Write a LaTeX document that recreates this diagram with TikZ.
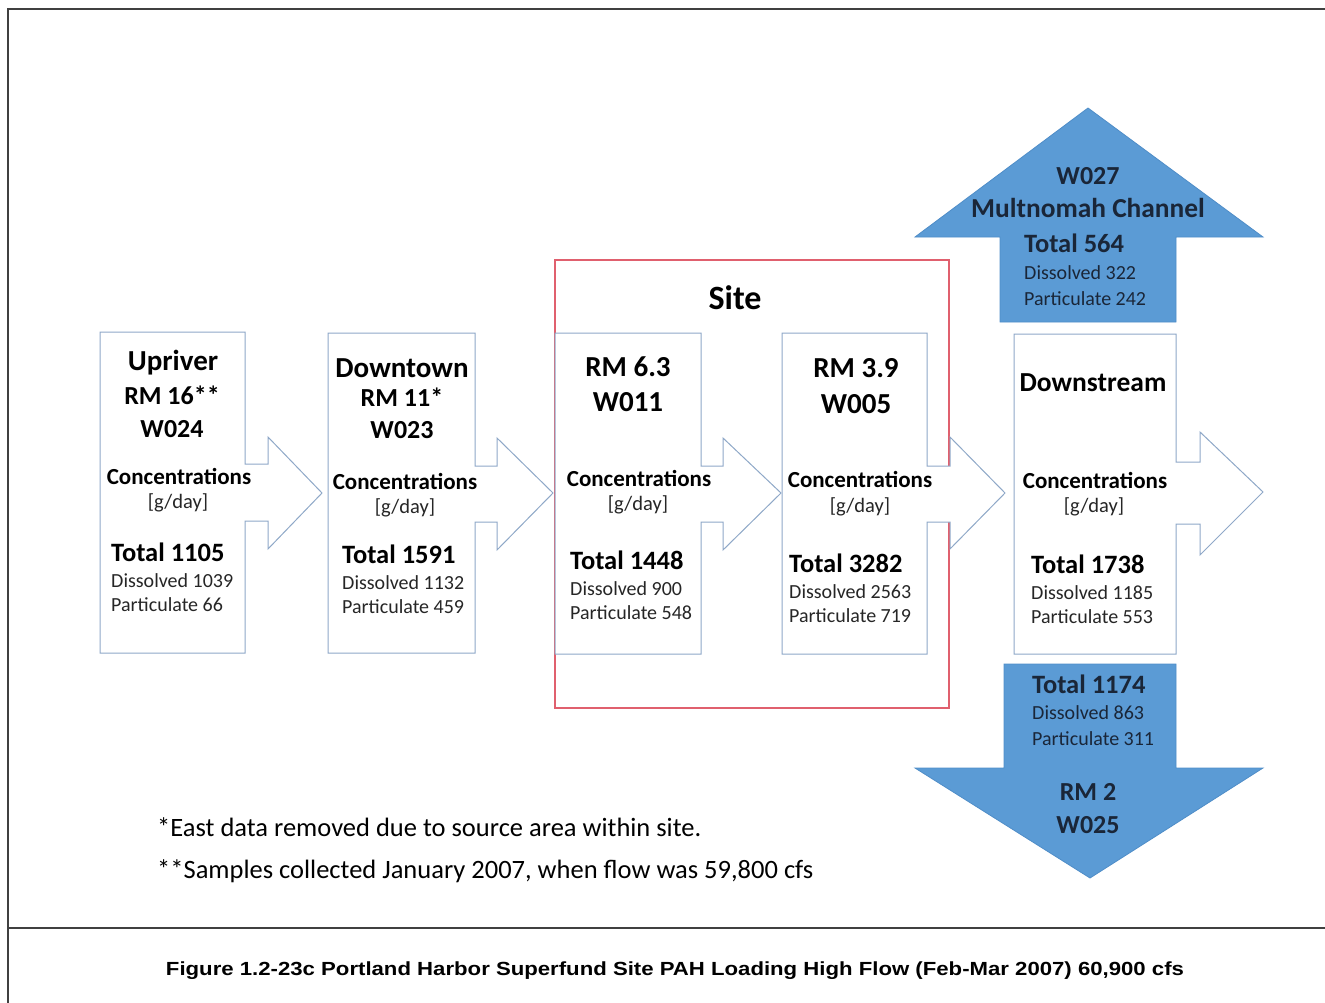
\documentclass[tikz,border=0pt]{standalone}
\usepackage{fontspec}
\usepackage{graphicx}
\setmainfont{Carlito}
\newfontfamily\capfont{Liberation Sans}
\definecolor{boxline}{HTML}{8FA8C8}
\definecolor{redline}{HTML}{E0606E}
\definecolor{bluefill}{HTML}{5B9BD5}
\definecolor{blueedge}{HTML}{4F8DC8}
\definecolor{bluetext}{HTML}{1A2638}
\definecolor{textgray}{HTML}{262626}
\definecolor{framecol}{HTML}{404040}
\tikzset{
  callout/.style={draw=boxline, fill=white, line width=1pt, line join=miter},
  bluearrow/.style={fill=bluefill, draw=blueedge, line width=0.8pt},
  sitebox/.style={draw=redline, line width=1.2pt},
  frameline/.style={draw=framecol, line width=2pt},
  lbl/.style={inner sep=0pt, anchor=base},
  lbll/.style={inner sep=0pt, anchor=base west},
  ttl/.style={font=\fontsize{29}{32}\selectfont\bfseries},
  sub/.style={font=\fontsize{26}{30}\selectfont\bfseries},
  conc/.style={font=\fontsize{23}{26}\selectfont\bfseries},
  unit/.style={font=\fontsize{20.5}{24}\selectfont, text=textgray},
  tot/.style={font=\fontsize{26.5}{30}\selectfont\bfseries},
  val/.style={font=\fontsize{20}{23}\selectfont, text=textgray},
  foot/.style={font=\fontsize{26.5}{30}\selectfont},
}
\begin{document}
\begin{tikzpicture}[x=1pt,y=-1pt]
\useasboundingbox (0,0) rectangle (1325,1003);
% frame
\draw[frameline] (1325,9) -- (8,9) -- (8,1003);
\draw[frameline] (8,928) -- (1325,928);
% site box
\draw[sitebox] (555,260) rectangle (949,708);
% callout boxes
\draw[callout] (100,332) -- (245,332) -- (245,464) -- (268,464) -- (268,437) -- (322,493) -- (268,549) -- (268,521) -- (245,521) -- (245,653) -- (100,653) -- cycle;
\draw[callout] (328,333) -- (475,333) -- (475,466) -- (497,466) -- (497,438) -- (553,493) -- (497,550) -- (497,522) -- (475,522) -- (475,653) -- (328,653) -- cycle;
\draw[callout] (555,333) -- (701,333) -- (701,466) -- (723,466) -- (723,438) -- (781,493) -- (723,550) -- (723,522) -- (701,522) -- (701,654) -- (555,654) -- cycle;
\draw[callout] (782,333) -- (927,333) -- (927,466) -- (950,466) -- (950,437) -- (1005,493) -- (950,549) -- (950,522) -- (927,522) -- (927,654) -- (782,654) -- cycle;
\draw[callout] (1014,334) -- (1176,334) -- (1176,462) -- (1200,462) -- (1200,432) -- (1263,492) -- (1200,555) -- (1200,524) -- (1176,524) -- (1176,654) -- (1014,654) -- cycle;
% blue arrows
\draw[bluearrow] (1000,322) -- (1000,237) -- (915,237) -- (1088,108) -- (1263,237) -- (1176,237) -- (1176,322) -- cycle;
\draw[bluearrow] (1004,664) -- (1176,664) -- (1176,768) -- (1263,768) -- (1090,878) -- (915,768) -- (1004,768) -- cycle;

% Site label
\node[lbl, font=\fontsize{34}{38}\selectfont\bfseries] (site) at (735,309) {Site};

% Upriver
\node[lbl,ttl] (up1) at (173,370) {Upriver};
\node[lbl,sub] (up2) at (172,404) {RM 16**};
\node[lbl,sub] (up3) at (172,437) {W024};
\node[lbl,conc] (up4) at (179,484) {Concentrations};
\node[lbl,unit] (up5) at (178,508) {[g/day]};
\node[lbll,tot] (up6) at (111,561) {Total 1105};
\node[lbll,val] (up7) at (111,587) {Dissolved 1039};
\node[lbll,val] (up8) at (111,611) {Particulate 66};

% Downtown
\node[lbl,ttl] (dt1) at (402,377) {Downtown};
\node[lbl,sub] (dt2) at (402,406) {RM 11*};
\node[lbl,sub] (dt3) at (402,438) {W023};
\node[lbl,conc] (dt4) at (405,489) {Concentrations};
\node[lbl,unit] (dt5) at (405,513) {[g/day]};
\node[lbll,tot] (dt6) at (342,563) {Total 1591};
\node[lbll,val] (dt7) at (342,589) {Dissolved 1132};
\node[lbll,val] (dt8) at (342,613) {Particulate 459};

% RM 6.3
\node[lbl,ttl] (a1) at (628,376) {RM 6.3};
\node[lbl,ttl] (a2) at (628,411) {W011};
\node[lbl,conc] (a4) at (639,486) {Concentrations};
\node[lbl,unit] (a5) at (638,510) {[g/day]};
\node[lbll,tot] (a6) at (570,569) {Total 1448};
\node[lbll,val] (a7) at (570,595) {Dissolved 900};
\node[lbll,val] (a8) at (570,619) {Particulate 548};

% RM 3.9
\node[lbl,ttl] (b1) at (856,377) {RM 3.9};
\node[lbl,ttl] (b2) at (856,413) {W005};
\node[lbl,conc] (b4) at (860,487) {Concentrations};
\node[lbl,unit] (b5) at (860,512) {[g/day]};
\node[lbll,tot] (b6) at (789,572) {Total 3282};
\node[lbll,val] (b7) at (789,598) {Dissolved 2563};
\node[lbll,val] (b8) at (789,622) {Particulate 719};

% Downstream
\node[lbl,font=\fontsize{27.5}{30}\selectfont\bfseries] (ds1) at (1093,391) {Downstream};
\node[lbl,conc] (ds4) at (1095,488) {Concentrations};
\node[lbl,unit] (ds5) at (1094,512) {[g/day]};
\node[lbll,tot] (ds6) at (1031,573) {Total 1738};
\node[lbll,val] (ds7) at (1031,599) {Dissolved 1185};
\node[lbll,val] (ds8) at (1031,623) {Particulate 553};

% Multnomah up arrow
\node[lbl,sub,text=bluetext] (m1) at (1088,185) {W027};
\node[lbl,font=\fontsize{27.4}{30}\selectfont\bfseries,text=bluetext] (m2) at (1088,218) {Multnomah Channel};
\node[lbll,tot,text=bluetext] (m3) at (1024,252) {Total 564};
\node[lbll,val,text=bluetext] (m4) at (1024,279) {Dissolved 322};
\node[lbll,val,text=bluetext] (m5) at (1024,305) {Particulate 242};

% RM 2 down arrow
\node[lbll,tot,text=bluetext] (r3) at (1032,693) {Total 1174};
\node[lbll,val,text=bluetext] (r4) at (1032,719) {Dissolved 863};
\node[lbll,val,text=bluetext] (r5) at (1032,745) {Particulate 311};
\node[lbl,sub,text=bluetext] (r1) at (1088,800) {RM 2};
\node[lbl,sub,text=bluetext] (r2) at (1088,833) {W025};

% footnotes
\node[lbll,foot] (f1) at (157,836) {*East data removed due to source area within site.};
\node[lbll,foot] (f2) at (157,878) {**Samples collected January 2007, when flow was 59,800 cfs};

% caption
\node[lbl] (cap) at (675,975) {\resizebox{1018pt}{\height}{\capfont\bfseries\fontsize{19}{22}\selectfont Figure 1.2-23c Portland Harbor Superfund Site PAH Loading High Flow (Feb-Mar 2007) 60,900 cfs}};
\end{tikzpicture}
\end{document}
